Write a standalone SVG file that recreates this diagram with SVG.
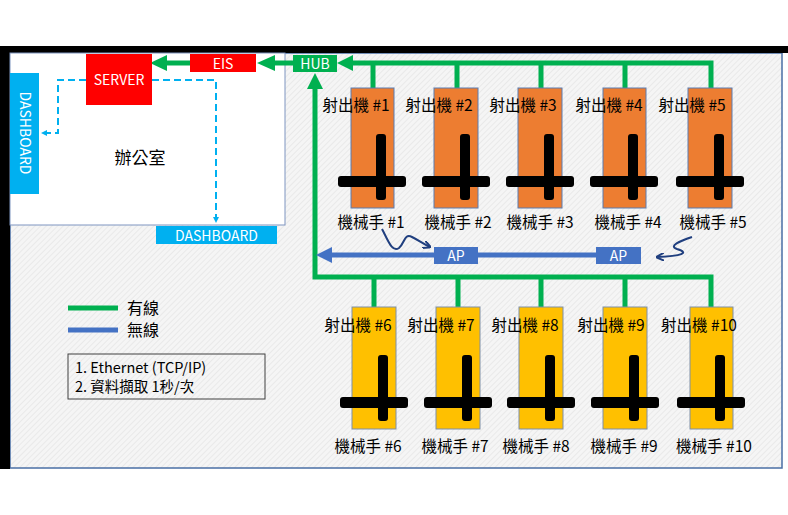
<svg xmlns="http://www.w3.org/2000/svg" width="788" height="515" viewBox="0 0 788 515">
<defs>
<pattern id="hatch" width="4" height="4" patternUnits="userSpaceOnUse" patternTransform="rotate(45)">
<rect width="4" height="4" fill="#f5f5f5"/>
<line x1="0" y1="0" x2="0" y2="4" stroke="#e6e6e6" stroke-width="1.5"/>
</pattern>
<marker id="dashHead" markerWidth="6" markerHeight="6" refX="5" refY="3" orient="auto" markerUnits="userSpaceOnUse">
<path d="M0,0 L6,3 L0,6 Z" fill="#00B0F0"/>
</marker>
<marker id="waveHead" markerWidth="8" markerHeight="8" refX="7" refY="4" orient="auto" markerUnits="userSpaceOnUse">
<path d="M0,0 L8,4 L0,8" fill="none" stroke="#203F7F" stroke-width="2"/>
</marker>
<g id="robot">
<rect x="-34" y="0" width="68" height="11" rx="3" fill="#000"/>
<rect x="4" y="-42" width="10" height="66" rx="3" fill="#000"/>
</g>
</defs>
<style>
text{font-family:"Noto Sans CJK TC","Noto Sans",sans-serif;}
.lbl{font-size:15.5px;fill:#000;text-anchor:middle;}
.wt{fill:#fff;text-anchor:middle;font-size:14px;}
.orange{fill:#ED7D31;stroke:#5B7DB1;stroke-width:1;}
.yellow{fill:#FFC000;stroke:#7F8FA8;stroke-width:1;}
.g{stroke:#00B050;stroke-width:5;fill:none;}
.dash{stroke:#00B0F0;stroke-width:2;fill:none;stroke-dasharray:7 4;}
.wave{stroke:#203F7F;stroke-width:2;fill:none;}
</style>
<rect width="788" height="515" fill="#fff"/>
<rect x="10" y="53" width="772" height="415" fill="url(#hatch)" stroke="#4A6FA5" stroke-width="1.5"/>
<rect x="0" y="46" width="788" height="7" fill="#000"/>
<rect x="0" y="46" width="10" height="423" fill="#000"/>

<g id="office">
<rect x="10" y="53" width="275" height="172" fill="#fff" stroke="#7F95C0" stroke-width="1"/>
<text x="140" y="164" font-size="17" text-anchor="middle">辦公室</text>
</g>

<g id="connectors">
<path class="dash" d="M86,80 H58 V133 H42" marker-end="url(#dashHead)"/>
<path class="dash" d="M152,80 H216 V222" marker-end="url(#dashHead)"/>
<path class="g" d="M353,63 H711 V88"/>
<path class="g" d="M373,63 V88 M457,63 V88 M541,63 V88 M625,63 V88"/>
<polygon points="337,63 353,55 353,71" fill="#00B050"/>
<path class="g" d="M275,63 H293"/>
<polygon points="257,63 275,55 275,71" fill="#00B050"/>
<path class="g" d="M167,63 H190"/>
<polygon points="150,63 167,55 167,71" fill="#00B050"/>
<path class="g" d="M315,88 V277 H711 V307"/>
<path class="g" d="M374,277 V307 M458,277 V307 M541,277 V307 M625,277 V307"/>
<polygon points="315,73 307,89 323,89" fill="#00B050"/>
<path d="M330,255 H434 M478,255 H596" stroke="#4472C4" stroke-width="5" fill="none"/>
<polygon points="316,255 332,247 332,263" fill="#4472C4"/>
<path class="wave" d="M382,229 C388,240 392,253 399,248 C405,243 404,233 412,237 C420,241 423,244 430,247" marker-end="url(#waveHead)"/>
<path class="wave" d="M692,237 C680,241 668,246 677,249 C690,253 682,256 657,257" marker-end="url(#waveHead)"/>
</g>

<g id="server">
<rect x="86" y="54" width="66" height="51" fill="#FF0000"/>
<text x="119" y="85" class="wt" font-size="15.5">SERVER</text>
</g>
<g id="eis">
<rect x="190" y="54" width="66" height="18" fill="#FF0000"/>
<text x="223" y="68.5" class="wt" font-size="15">EIS</text>
</g>
<g id="hub">
<rect x="293" y="55" width="44" height="17" fill="#00B050"/>
<text x="315" y="68.5" class="wt">HUB</text>
</g>
<g id="dashboard-left">
<rect x="10" y="73" width="29" height="121" fill="#00B0F0"/>
<text transform="translate(19.5,133) rotate(90)" class="wt" font-size="15.5">DASHBOARD</text>
</g>
<g id="dashboard-bottom">
<rect x="156" y="226" width="121" height="18" fill="#00B0F0"/>
<text x="216.5" y="241" class="wt" font-size="15.5">DASHBOARD</text>
</g>
<g id="ap1">
<rect x="434" y="247" width="44" height="17" fill="#4472C4"/>
<text x="456" y="260.5" class="wt" font-size="13">AP</text>
</g>
<g id="ap2">
<rect x="596" y="247" width="45" height="17" fill="#4472C4"/>
<text x="618.5" y="260.5" class="wt" font-size="13">AP</text>
</g>

<g id="m1"><rect class="orange" x="351" y="88" width="43" height="120"/><use href="#robot" x="372" y="176"/><text class="lbl" x="356" y="111">射出機 #1</text><text class="lbl" x="371" y="228">機械手 #1</text></g>
<g id="m2"><rect class="orange" x="434" y="88" width="44" height="120"/><use href="#robot" x="456" y="176"/><text class="lbl" x="439" y="111">射出機 #2</text><text class="lbl" x="458" y="228">機械手 #2</text></g>
<g id="m3"><rect class="orange" x="518" y="88" width="44" height="120"/><use href="#robot" x="540" y="176"/><text class="lbl" x="523" y="111">射出機 #3</text><text class="lbl" x="540" y="228">機械手 #3</text></g>
<g id="m4"><rect class="orange" x="603" y="88" width="43" height="120"/><use href="#robot" x="624" y="176"/><text class="lbl" x="609" y="111">射出機 #4</text><text class="lbl" x="628" y="228">機械手 #4</text></g>
<g id="m5"><rect class="orange" x="688" y="88" width="44" height="120"/><use href="#robot" x="710" y="176"/><text class="lbl" x="692" y="111">射出機 #5</text><text class="lbl" x="713" y="228">機械手 #5</text></g>

<g id="m6"><rect class="yellow" x="352" y="307" width="44" height="122"/><use href="#robot" x="374" y="397"/><text class="lbl" x="358" y="331">射出機 #6</text><text class="lbl" x="368" y="452">機械手 #6</text></g>
<g id="m7"><rect class="yellow" x="436" y="307" width="44" height="122"/><use href="#robot" x="458" y="397"/><text class="lbl" x="441" y="331">射出機 #7</text><text class="lbl" x="455" y="452">機械手 #7</text></g>
<g id="m8"><rect class="yellow" x="519" y="307" width="44" height="122"/><use href="#robot" x="541" y="397"/><text class="lbl" x="525" y="331">射出機 #8</text><text class="lbl" x="536" y="452">機械手 #8</text></g>
<g id="m9"><rect class="yellow" x="603" y="307" width="44" height="122"/><use href="#robot" x="625" y="397"/><text class="lbl" x="611" y="331">射出機 #9</text><text class="lbl" x="624" y="452">機械手 #9</text></g>
<g id="m10"><rect class="yellow" x="690" y="307" width="43" height="122"/><use href="#robot" x="711" y="397"/><text class="lbl" x="699" y="331">射出機 #10</text><text class="lbl" x="714" y="452">機械手 #10</text></g>

<g id="legend">
<line x1="68" y1="308" x2="118" y2="308" stroke="#00B050" stroke-width="5"/>
<line x1="68" y1="330" x2="118" y2="330" stroke="#4472C4" stroke-width="5"/>
<text x="127" y="314" font-size="16">有線</text>
<text x="127" y="336" font-size="16">無線</text>
<rect x="68" y="354" width="197" height="45" fill="none" stroke="#404040" stroke-width="1"/>
<text x="75" y="373" font-size="14.5">1. Ethernet (TCP/IP)</text>
<text x="75" y="392" font-size="14.5">2. 資料擷取 1秒/次</text>
</g>
</svg>
